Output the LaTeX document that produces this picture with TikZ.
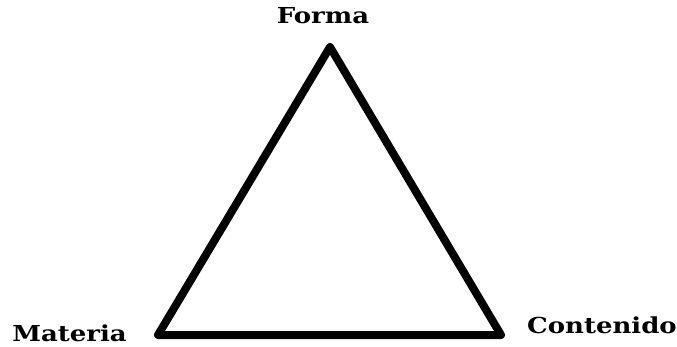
\documentclass[tikz,border=0pt]{standalone}
\usepackage{fontspec}
\setmainfont{DejaVu Serif}
\newcommand{\wide}[1]{\scalebox{1.18}[1]{#1}}
\begin{document}
\begin{tikzpicture}[x=1pt,y=-1pt,
  lbl/.style={font=\bfseries\fontsize{22}{26}\selectfont, inner sep=0pt, anchor=base}]
\useasboundingbox (0,0) rectangle (677,347);
\coordinate (F) at (330,47);
\coordinate (M) at (158,335);
\coordinate (C) at (501,335);
\draw[line width=8pt, line join=round] (F) -- (M) -- (C) -- cycle;
\node[lbl] (lf) at (323,23.3) {\wide{Forma}};
\node[lbl] (lm) at (69.5,341) {\wide{Materia}};
\node[lbl] (lc) at (602,333.3) {\wide{Contenido}};
\end{tikzpicture}
\end{document}
